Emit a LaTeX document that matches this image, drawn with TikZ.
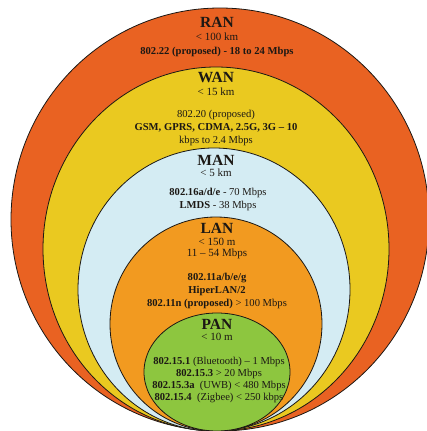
\documentclass[tikz,border=0pt]{standalone}
\usepackage{fontspec}
\setmainfont{Liberation Serif}
\definecolor{ranc}{RGB}{233,98,34}
\definecolor{wanc}{RGB}{234,201,32}
\definecolor{manc}{RGB}{212,236,243}
\definecolor{lanc}{RGB}{242,154,32}
\definecolor{panc}{RGB}{141,198,63}
\definecolor{ink}{RGB}{28,24,20}
\tikzset{
  zone/.style={draw=ink, line width=0.8pt},
  title/.style={inner sep=0pt, text=ink, font=\fontsize{15.5}{15.5}\selectfont\bfseries},
  sub/.style={inner sep=0pt, text=ink, font=\fontsize{11}{11}\selectfont},
  info/.style={inner sep=0pt, text=ink, font=\fontsize{10.6}{10.6}\selectfont},
}
\begin{document}
\begin{tikzpicture}[x=1pt,y=-1pt]
\useasboundingbox (0,0) rectangle (426,431);
% nested zones, all touching at the bottom
\filldraw[zone, fill=ranc] (220,219.5) ellipse [x radius=209pt, y radius=211.5pt];
\filldraw[zone, fill=wanc] (216,249) ellipse [x radius=173pt, y radius=182pt];
\filldraw[zone, fill=manc] (214,289.5) ellipse [x radius=136pt, y radius=141.5pt];
\filldraw[zone, fill=lanc] (216,324) ellipse [x radius=106pt, y radius=107pt];
\filldraw[zone, fill=panc] (217,372) ellipse [x radius=73pt, y radius=59pt];
% RAN
\node[title] (ran) at (217,22) {RAN};
\node[sub] (ranr) at (217,37) {< 100 km};
\node[info] (rani) at (217,52) {\bfseries 802.22 (proposed) - 18 to 24 Mbps};
% WAN
\node[title] (wan) at (216,77) {WAN};
\node[sub] (wanr) at (216,92) {< 15 km};
\node[info] (wani1) at (216,115) {802.20 (proposed)};
\node[info] (wani2) at (216,128) {\bfseries GSM, GPRS, CDMA, 2.5G, 3G – 10};
\node[info] (wani3) at (216,141) {kbps to 2.4 Mbps};
% MAN
\node[title] (man) at (216,160) {MAN};
\node[sub] (manr) at (216,173) {< 5 km};
\node[info] (mani1) at (218,193) {\bfseries 802.16a/d/e\mdseries{} - 70 Mbps};
\node[info] (mani2) at (218,206) {\bfseries LMDS\mdseries{} - 38 Mbps};
% LAN
\node[title] (lan) at (217,228) {LAN};
\node[sub] (lanr) at (217,242) {< 150 m};
\node[sub] (lans) at (217,254) {11 – 54 Mbps};
\node[info] (lani1) at (217,278) {\bfseries 802.11a/b/e/g};
\node[info] (lani2) at (217,291) {\bfseries HiperLAN/2};
\node[info] (lani3) at (217,304) {\bfseries 802.11n (proposed) \mdseries > 100 Mbps};
% PAN
\node[title] (pan) at (217,324) {PAN};
\node[sub] (panr) at (217,337) {< 10 m};
\node[info] (pani1) at (219,362) {\bfseries 802.15.1 \mdseries (Bluetooth) – 1 Mbps};
\node[info] (pani2) at (219,374) {\bfseries 802.15.3 \mdseries > 20 Mbps};
\node[info] (pani3) at (219,386) {\bfseries 802.15.3a \mdseries\ (UWB) < 480 Mbps};
\node[info] (pani4) at (219,398) {\bfseries 802.15.4 \mdseries\ (Zigbee) < 250 kbps};
\end{tikzpicture}
\end{document}
